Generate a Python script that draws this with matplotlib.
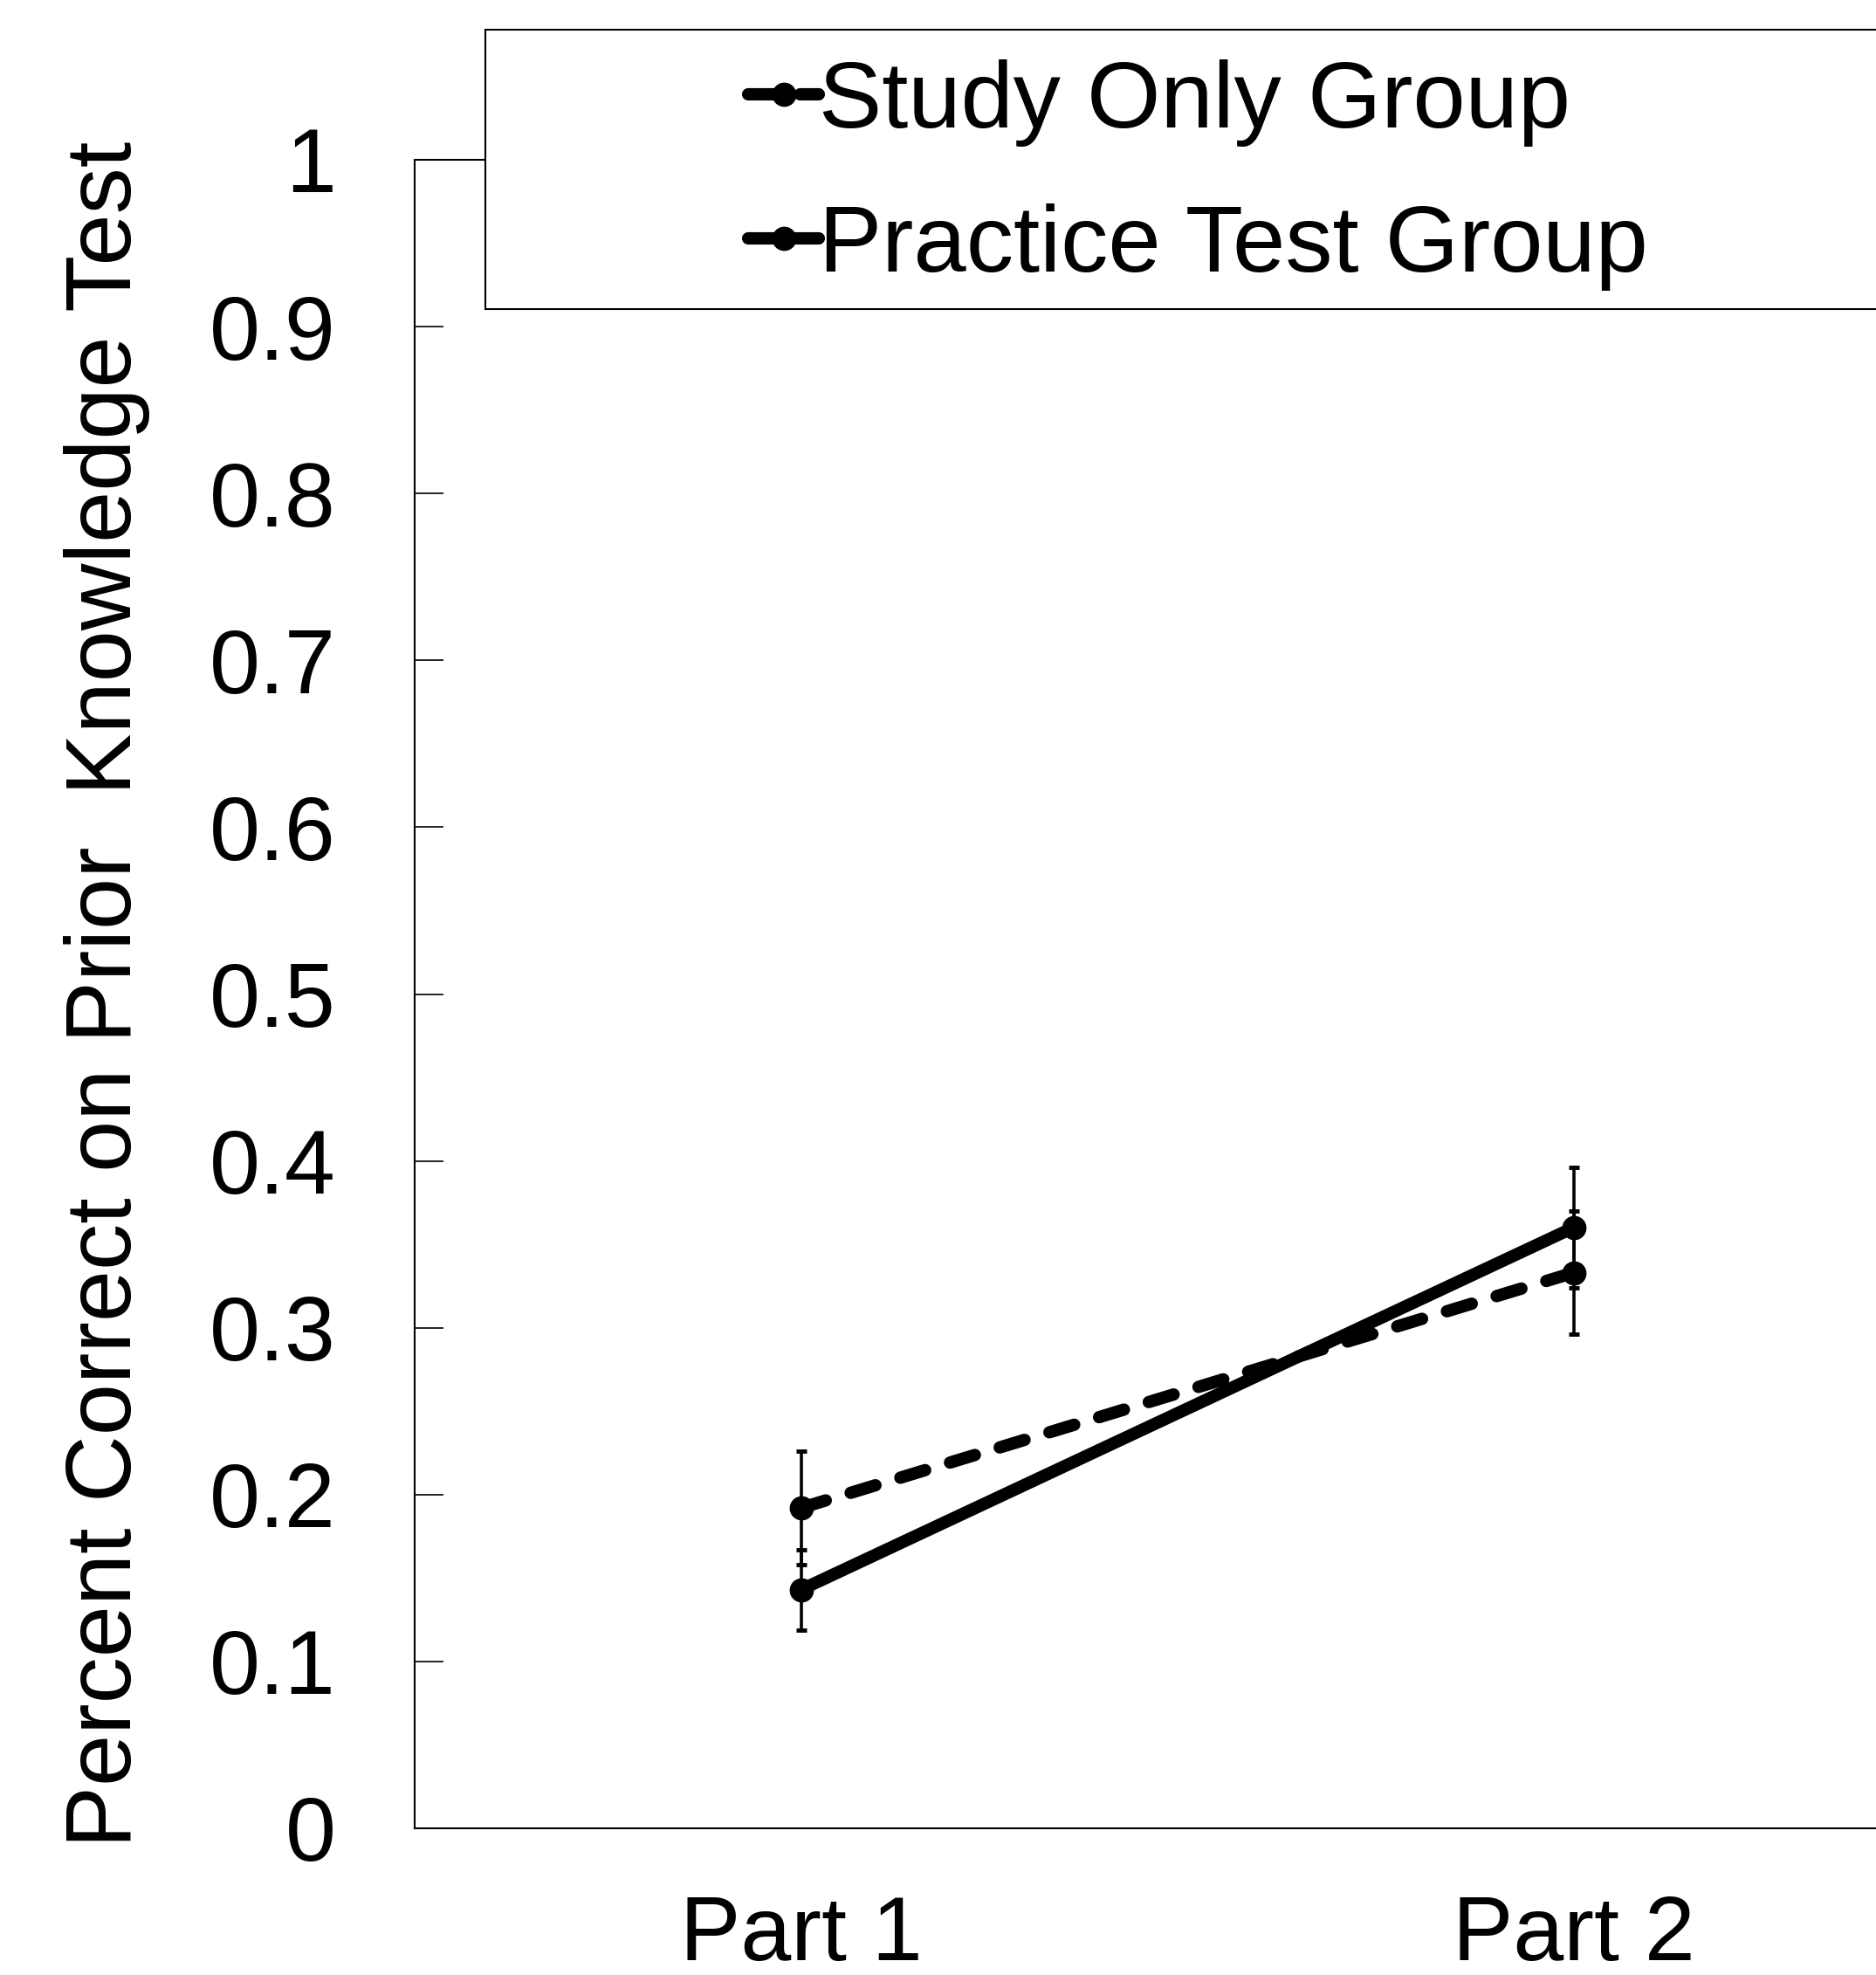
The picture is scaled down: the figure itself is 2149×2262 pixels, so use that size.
import matplotlib
matplotlib.use('Agg')
import matplotlib.pyplot as plt
from matplotlib.patches import Rectangle

plt.rcParams['font.family'] = ['Liberation Sans', 'DejaVu Sans']

# data
parts = ['Part 1', 'Part 2']
x_pos = [1, 2]
study_mean = [0.192, 0.333]
study_err = [0.034, 0.037]
practice_mean = [0.143, 0.360]
practice_err = [0.024, 0.036]
y_ticks = [0, 0.1, 0.2, 0.3, 0.4, 0.5, 0.6, 0.7, 0.8, 0.9, 1]
y_tick_labels = ['0', '0.1', '0.2', '0.3', '0.4', '0.5', '0.6', '0.7', '0.8', '0.9', '1']

W, H = 2149, 2262
fig = plt.figure(figsize=(W / 100, H / 100), dpi=100)
# axes runs off the right edge of the picture, as in the original
ax = fig.add_axes([475 / W, 1 - 2094 / H, 1770 / W, 1911 / H])

lw = 10.2
study_line, = ax.plot(x_pos, study_mean, color='black', lw=lw, ls=(0, (2.1, 2.1)),
                      dash_capstyle='round', marker='o', markersize=19, zorder=3)
practice_line, = ax.plot(x_pos, practice_mean, color='black', lw=lw, ls='-',
                         solid_capstyle='round', marker='o', markersize=19, zorder=3)

ax.errorbar(x_pos, study_mean, yerr=study_err, fmt='none', ecolor='black',
            elinewidth=2.6, capsize=4.5, capthick=3.5, zorder=4)
ax.errorbar(x_pos, practice_mean, yerr=practice_err, fmt='none', ecolor='black',
            elinewidth=2.6, capsize=4.5, capthick=3.5, zorder=4)

ax.set_xlim(0.5, 2.5)
ax.set_ylim(0, 1)
ax.set_xticks(x_pos)
ax.set_xticklabels(parts)
ax.set_yticks(y_ticks)
ax.set_yticklabels(y_tick_labels)
ax.tick_params(axis='y', direction='in', length=24, width=1.2, pad=65, labelsize=75)
ax.tick_params(axis='x', direction='in', length=0, pad=55, labelsize=75)

for side in ['left', 'bottom', 'top']:
    ax.spines[side].set_linewidth(1.5)
ax.spines['right'].set_visible(False)

ax.set_ylabel('Percent Correct on Prior  Knowledge Test', fontsize=76.5)
ax.yaxis.set_label_coords((172 - 475) / 1770, 0.5)

# legend box also runs off the right edge
box = Rectangle((556 / W, 1 - 354 / H), (2400 - 556) / W, 320 / H,
                transform=fig.transFigure, facecolor='white', edgecolor='black',
                lw=1.5, zorder=4, clip_on=False)
fig.add_artist(box)

leg = fig.legend([study_line, practice_line], ['Study Only Group', 'Practice Test Group'],
                 loc='upper left', bbox_to_anchor=(857 / W, 1 - 68 / H), frameon=False,
                 fontsize=78, handlelength=0.75, handletextpad=0.0, borderpad=0,
                 borderaxespad=0, labelspacing=0.6)
leg.set_zorder(6)

fig.savefig('out.png', dpi=100)
